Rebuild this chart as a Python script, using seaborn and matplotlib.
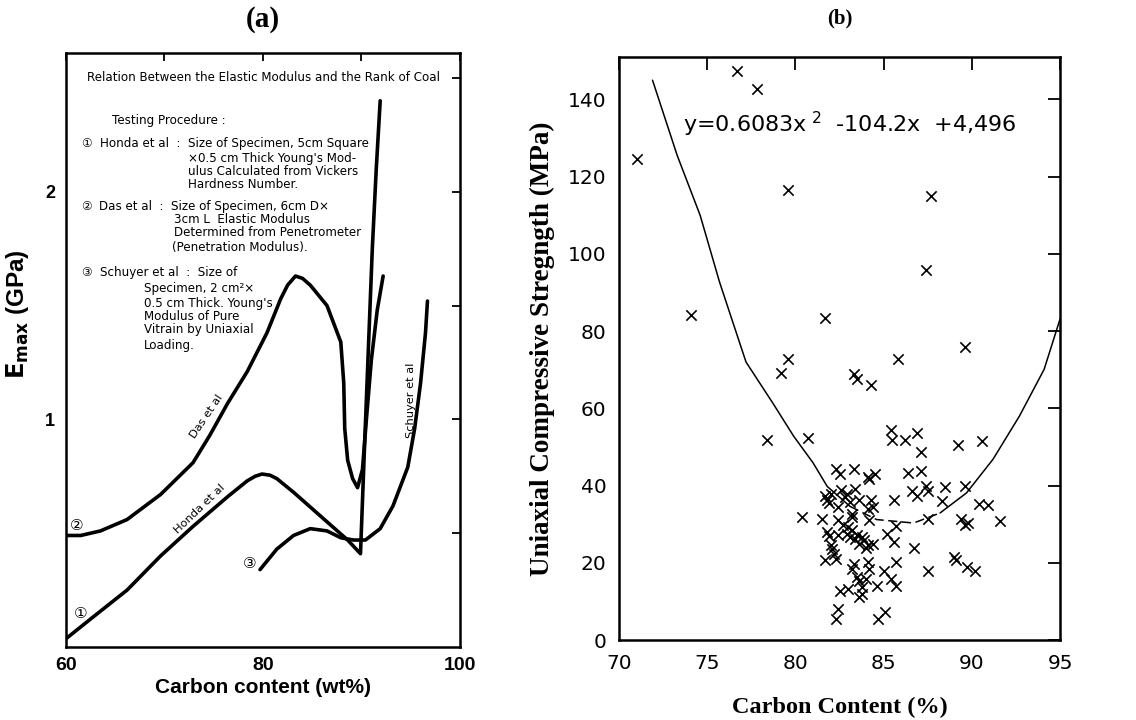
import numpy as np
import pandas as pd
import seaborn as sns
from matplotlib import pyplot as plt

# ---- panel (a): Emax vs carbon content ----
honda_x = [60.1, 62.7, 66.2, 69.6, 72.9, 76.4, 78.4, 79.2, 79.9, 80.7, 81.4, 83.1, 86.5,
           88.6, 89.9, 90.3, 90.7, 91.1, 91.5, 91.9]
honda_y = [0.04, 0.13, 0.25, 0.40, 0.53, 0.66, 0.73, 0.75, 0.76, 0.755, 0.74, 0.68, 0.55,
           0.47, 0.41, 0.87, 1.31, 1.75, 2.10, 2.40]

das_x = [60.0, 61.5, 63.5, 66.2, 69.6, 72.9, 74.6, 76.4, 78.4, 80.4, 81.8, 82.5, 83.3,
         84.0, 84.8, 86.5, 87.9, 88.2, 88.3, 88.6, 89.1, 89.6, 90.1, 90.5, 91.0, 91.6, 92.2]
das_y = [0.49, 0.49, 0.51, 0.56, 0.67, 0.81, 0.93, 1.07, 1.21, 1.38, 1.53, 1.59, 1.63,
         1.62, 1.59, 1.50, 1.34, 1.16, 0.96, 0.82, 0.74, 0.70, 0.78, 1.00, 1.26, 1.48, 1.63]

schuyer_x = [79.7, 81.4, 83.1, 84.8, 86.5, 87.9, 89.2, 90.4, 91.9, 93.2, 94.7, 95.4, 96.0,
             96.5, 96.7]
schuyer_y = [0.34, 0.43, 0.49, 0.52, 0.51, 0.48, 0.47, 0.47, 0.52, 0.62, 0.79, 0.96, 1.16,
             1.38, 1.52]

a_xticks = [60, 70, 80, 90, 100]
a_xticklabels = ['60', '', '80', '', '100']
a_yticks = [0.5, 1, 1.5, 2, 2.5]
a_yticklabels = ['', '1', '', '2', '']

notes = [
    (0.053, 0.958, "Relation Between the Elastic Modulus and the Rank of Coal"),
    (0.117, 0.886, "Testing Procedure :"),
    (0.038, 0.847, "①"),
    (0.086, 0.847, "Honda et al  :  Size of Specimen, 5cm Square"),
    (0.310, 0.823, "×0.5 cm Thick Young's Mod-"),
    (0.310, 0.801, "ulus Calculated from Vickers"),
    (0.310, 0.779, "Hardness Number."),
    (0.038, 0.742, "②"),
    (0.084, 0.742, "Das et al  :  Size of Specimen, 6cm D×"),
    (0.274, 0.719, "3cm L  Elastic Modulus"),
    (0.274, 0.697, "Determined from Penetrometer"),
    (0.269, 0.673, "(Penetration Modulus)."),
    (0.038, 0.630, "③"),
    (0.086, 0.630, "Schuyer et al  :  Size of"),
    (0.198, 0.603, "Specimen, 2 cm²×"),
    (0.198, 0.579, "0.5 cm Thick. Young's"),
    (0.198, 0.557, "Modulus of Pure"),
    (0.198, 0.534, "Vitrain by Uniaxial"),
    (0.198, 0.507, "Loading."),
]

# ---- panel (b): UCS vs carbon content ----
carbon = [71.0, 76.7, 77.8, 79.6, 87.7, 87.4, 74.1, 81.7, 79.6, 85.8, 89.6,
          79.2, 83.3, 83.5, 84.3,
          78.4, 80.7, 85.4, 85.5, 86.2, 86.9, 87.1, 89.2, 90.6,
          86.4, 87.1, 86.6, 86.9, 87.4, 87.5, 88.5, 88.3, 89.6, 87.5,
          86.7, 87.5, 89.0, 89.1, 89.7, 90.2, 89.4, 89.6, 89.8, 90.4, 90.9, 91.6,
          80.4, 81.5,
          81.7, 81.8, 81.9, 82.0,
          81.8, 81.9, 82.0, 82.1, 82.2, 81.7, 82.3,
          82.3, 82.5, 83.3, 84.2, 84.5, 84.1,
          82.6, 82.8, 82.9, 83.4, 83.1, 82.4, 83.6, 84.3, 84.4, 84.1, 85.6,
          84.2, 83.2, 83.2, 82.4, 82.7, 83.0,
          82.4, 82.9, 83.1, 83.4, 83.6, 83.9, 84.1, 84.4, 85.2, 85.7, 85.6,
          83.2, 83.5, 83.8, 84.0,
          83.3, 83.2, 84.1, 84.2, 85.7, 85.0, 85.4, 85.7,
          83.6, 83.5, 84.0, 83.8, 84.6, 82.5, 83.0, 83.6, 83.8,
          82.4, 82.3, 84.7, 85.1]
ucs = [124.7, 147.3, 142.6, 116.6, 115.0, 95.9, 84.2, 83.3, 72.9, 72.9, 75.8,
       69.1, 68.8, 67.7, 66.0,
       51.8, 52.4, 54.5, 51.9, 51.9, 53.5, 48.7, 50.6, 51.5,
       43.3, 43.7, 38.5, 37.2, 40.0, 38.5, 39.6, 35.9, 40.0, 31.3,
       23.8, 17.8, 21.6, 20.8, 19.0, 18.0, 31.3, 29.9, 30.3, 35.3, 34.9, 30.7,
       31.9, 31.3,
       37.2, 36.3, 35.4, 37.8,
       28.1, 27.0, 24.5, 23.5, 22.3, 20.8, 21.0,
       44.4, 42.9, 44.4, 41.6, 43.1, 42.3,
       38.8, 37.1, 37.9, 39.2, 35.8, 34.5, 36.2, 36.2, 34.5, 34.0, 36.2,
       31.0, 31.9, 32.7, 31.0, 29.7, 29.3,
       27.1, 27.5, 26.7, 26.2, 24.9, 25.8, 24.5, 24.9, 27.5, 29.5, 25.5,
       28.5, 27.3, 26.8, 23.8,
       19.7, 18.4, 20.2, 18.4, 20.3, 18.0, 15.8, 14.1,
       15.4, 16.3, 15.8, 13.7, 14.1, 12.8, 13.2, 11.1, 11.9,
       8.1, 5.5, 5.5, 7.2]

# fitted curve as drawn in the figure
fit_x = [71.9, 73.3, 74.6, 75.7, 77.2, 78.7, 79.9, 81.0, 81.8, 83.1, 84.6, 86.7, 88.2,
         89.7, 91.2, 92.7, 94.1, 95.0]
fit_y = [145.0, 125.5, 110.0, 92.7, 72.0, 61.5, 52.8, 45.9, 39.8, 34.6, 31.2, 30.3, 32.9,
         38.1, 46.8, 58.0, 70.1, 83.1]

b_xticks = [70, 75, 80, 85, 90, 95]
b_yticks = [0, 20, 40, 60, 80, 100, 120, 140]

sns.set_theme(style="white")
plt.rcParams['font.family'] = ['DejaVu Sans', 'Noto Sans CJK JP']
for k in ['text.color', 'axes.labelcolor', 'xtick.color', 'ytick.color', 'axes.edgecolor']:
    plt.rcParams[k] = 'black'

fig = plt.figure(figsize=(11.36, 7.2), dpi=100)
ax1 = fig.add_axes([0.0581, 0.1014, 0.3468, 0.825])
ax2 = fig.add_axes([0.5449, 0.1111, 0.3882, 0.8097])

# ---------- (a) ----------
for xs, ys in [(honda_x, honda_y), (das_x, das_y), (schuyer_x, schuyer_y)]:
    sns.lineplot(x=xs, y=ys, sort=False, estimator=None, color='black', lw=2.6, ax=ax1)

ax1.set_xlim(60, 100)
ax1.set_ylim(0, 2.61)
ax1.set_xticks(a_xticks)
ax1.set_xticklabels(a_xticklabels, fontfamily='Liberation Sans', fontweight='bold', fontsize=14)
ax1.set_yticks(a_yticks)
ax1.set_yticklabels(a_yticklabels, fontfamily='Liberation Sans', fontweight='bold', fontsize=13)
ax1.tick_params(direction='in', length=6, width=1.3, top=True, right=True)
ax1.tick_params(axis='x', pad=7)
ax1.tick_params(axis='y', pad=8)
for sp in ax1.spines.values():
    sp.set_linewidth(1.8)

ax1.set_xlabel('Carbon content (wt%)', fontfamily='Liberation Sans', fontweight='bold',
               fontsize=15, labelpad=3)
ax1.set_ylabel(r'$\mathbf{E_{max}}$ (GPa)', fontfamily='Liberation Sans', fontweight='bold',
               fontsize=17.5)
ax1.yaxis.set_label_coords(-0.088, 0.56)
ax1.set_title('(a)', fontfamily='Liberation Serif', fontweight='bold', fontsize=21, pad=19)

for fx, fy, s in notes:
    ax1.text(fx, fy, s, transform=ax1.transAxes, fontsize=8.6, va='center', ha='left',
             family=['DejaVu Sans', 'Noto Sans CJK JP'])

# circled markers and curve names
for fx, fy, s in [(0.036, 0.057, '①'), (0.028, 0.205, '②'), (0.467, 0.141, '③')]:
    ax1.text(fx, fy, s, transform=ax1.transAxes, fontsize=11, ha='center', va='center',
             family=['DejaVu Sans', 'Noto Sans CJK JP'])
ax1.text(0.357, 0.388, 'Das et al', transform=ax1.transAxes, fontsize=8.2, rotation=56,
         ha='center', va='center')
ax1.text(0.338, 0.232, 'Honda et al', transform=ax1.transAxes, fontsize=8.2, rotation=44,
         ha='center', va='center')
ax1.text(0.876, 0.415, 'Schuyer et al', transform=ax1.transAxes, fontsize=8.2, rotation=90,
         ha='center', va='center')

# ---------- (b) ----------
sns.scatterplot(x=carbon, y=ucs, marker='x', s=55, color='black', linewidth=1.2, ax=ax2)

# solid ends, dashed through the dense cluster
sns.lineplot(x=fit_x[:10], y=fit_y[:10], sort=False, estimator=None, color='black', lw=1.1, ax=ax2)
sns.lineplot(x=fit_x[9:13], y=fit_y[9:13], sort=False, estimator=None, color='black', lw=1.1,
             ax=ax2).lines[-1].set_linestyle((0, (6, 3)))
sns.lineplot(x=fit_x[12:], y=fit_y[12:], sort=False, estimator=None, color='black', lw=1.1, ax=ax2)

ax2.text(73.6, 133.5, r'y=0.6083x$^{\ 2}$  -104.2x  +4,496', fontsize=16, ha='left', va='center')

ax2.set_xlim(70, 95)
ax2.set_ylim(0, 151)
ax2.set_xticks(b_xticks)
ax2.set_yticks(b_yticks)
ax2.tick_params(direction='in', length=9, width=1.3, top=True, right=True, labelsize=14.5)
ax2.tick_params(axis='x', pad=10)
ax2.tick_params(axis='y', pad=9)
for sp in ax2.spines.values():
    sp.set_linewidth(1.8)

ax2.set_xlabel('Carbon Content (%)', fontfamily='Liberation Serif', fontweight='bold',
               fontsize=17.5, labelpad=17)
ax2.set_ylabel('Uniaxial Compressive Stregngth (MPa)', fontfamily='Liberation Serif',
               fontweight='bold', fontsize=19.5, labelpad=9)
ax2.set_title('(b)', fontfamily='Liberation Serif', fontweight='bold', fontsize=15, pad=24)

fig.savefig('out.png', dpi=100)
